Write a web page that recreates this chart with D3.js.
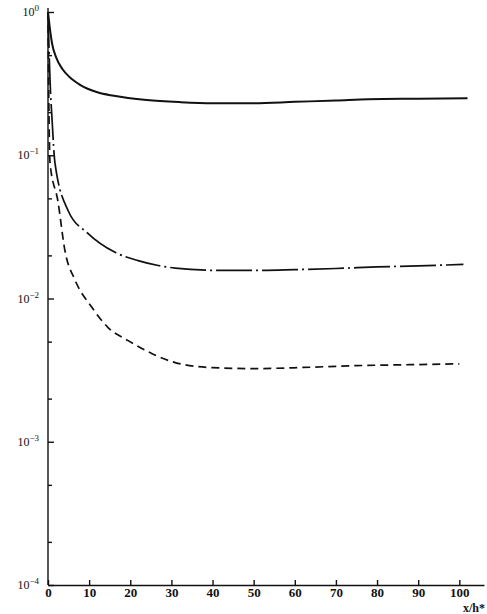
<!DOCTYPE html>
<html>
<head>
<meta charset="utf-8">
<script src="https://cdn.jsdelivr.net/npm/d3@7"></script>
<style>
  body { margin: 0; background: #fff; }
  svg { display: block; }
  .axis path, .axis line { stroke: #111; stroke-width: 1.4; }
  .axis text { font-family: "Liberation Serif", serif; font-weight: bold; font-size: 13px; fill: #111; }
</style>
</head>
<body>
<div id="container"></div>
<script>
// values: x/h* against a log quantity
var solidX = [0, 0.5, 1, 2, 3.5, 5.3, 7.8, 12, 16, 24, 32, 40, 50, 60, 70, 78, 90, 102];
var solidY = [1.0, 0.75, 0.6, 0.48, 0.4, 0.35, 0.31, 0.275, 0.26, 0.243, 0.235, 0.231, 0.231, 0.236, 0.241, 0.246, 0.248, 0.25];

var dashDotX = [0, 0.5, 1, 1.7, 4.9, 9.7, 16.3, 21.9, 26.8, 30.9, 42, 50, 60, 70, 80, 90, 101];
var dashDotY = [1.0, 0.33, 0.175, 0.088, 0.041, 0.0285, 0.021, 0.0184, 0.017, 0.0163, 0.0157, 0.0157, 0.0159, 0.0162, 0.0166, 0.0169, 0.0173];

var dashedX = [0, 0.2, 0.5, 2.4, 4.1, 6.6, 10.7, 14.6, 19.5, 25.3, 30.9, 39.9, 50, 62, 75, 88, 100];
var dashedY = [1.0, 0.24, 0.088, 0.048, 0.0217, 0.0134, 0.00865, 0.00627, 0.00508, 0.00412, 0.00357, 0.00329, 0.00324, 0.0033, 0.0034, 0.00345, 0.0035];

var xTicks = [0, 10, 20, 30, 40, 50, 60, 70, 80, 90, 100];
var yTicks = [1e-4, 1e-3, 1e-2, 1e-1, 1];
var yExponents = ["\u22124", "\u22123", "\u22122", "\u22121", "0"];
var yMinor = [2e-4, 5e-4, 2e-3, 5e-3, 2e-2, 5e-2, 2e-1, 5e-1];

const W = 487, H = 614;
const svg = d3.select("#container").append("svg")
  .attr("width", W).attr("height", H);

const x = d3.scaleLinear().domain([0, 106]).range([48, 484]);
const y = d3.scaleLog().domain([1e-4, 1]).range([585, 12]);

// x axis, ticks pointing up
const xAxis = d3.axisBottom(x)
  .tickValues(xTicks)
  .tickSizeInner(-5)
  .tickSizeOuter(0)
  .tickPadding(3)
  .tickFormat(d3.format("d"));
svg.append("g")
  .attr("class", "x axis")
  .attr("transform", `translate(0, ${y(1e-4)})`)
  .call(xAxis);

// y axis, decade ticks pointing right
const yAxis = d3.axisLeft(y)
  .tickValues(yTicks)
  .tickSizeInner(-6)
  .tickSizeOuter(0)
  .tickFormat("");
const gy = svg.append("g")
  .attr("class", "y axis")
  .attr("transform", `translate(${x(0)}, 0)`)
  .call(yAxis);
gy.select(".domain").attr("d", `M0,${y(1e-4)}V8`);

svg.append("g")
  .attr("class", "y axis minor")
  .attr("transform", `translate(${x(0)}, 0)`)
  .call(d3.axisLeft(y).tickValues(yMinor).tickSizeInner(-4).tickSizeOuter(0).tickFormat(""))
  .select(".domain").remove();

// decade labels 10^n
const lab = svg.append("g")
  .attr("font-family", "Liberation Serif, serif")
  .attr("font-size", 12)
  .attr("fill", "#111");
yTicks.forEach(function(v, i) {
  const t = lab.append("text")
    .attr("x", 39)
    .attr("y", y(v) + 4)
    .attr("text-anchor", "end");
  t.append("tspan").text("10");
  t.append("tspan").attr("dy", -5).attr("font-size", 9).text(yExponents[i]);
});

svg.append("text")
  .attr("x", 485).attr("y", 612)
  .attr("text-anchor", "end")
  .attr("font-family", "Liberation Serif, serif")
  .attr("font-weight", "bold")
  .attr("font-size", 12)
  .attr("fill", "#111")
  .text("x/h*");

// curves
const line = d3.line()
  .x(d => x(d[0]))
  .y(d => y(d[1]))
  .curve(d3.curveMonotoneX);

const series = [
  { xs: solidX, ys: solidY, dash: null, w: 2 },
  { xs: dashDotX, ys: dashDotY, dash: "36,4,2,4", w: 1.7 },
  { xs: dashedX, ys: dashedY, dash: "8,5", w: 1.7 }
];

svg.selectAll("path.curve").data(series)
  .enter()
  .append("path")
  .attr("class", "curve")
  .attr("fill", "none")
  .attr("stroke", "#111")
  .attr("stroke-width", d => d.w)
  .attr("stroke-dasharray", d => d.dash)
  .attr("d", d => line(d.xs.map((v, i) => [v, d.ys[i]])));
</script>
</body>
</html>
